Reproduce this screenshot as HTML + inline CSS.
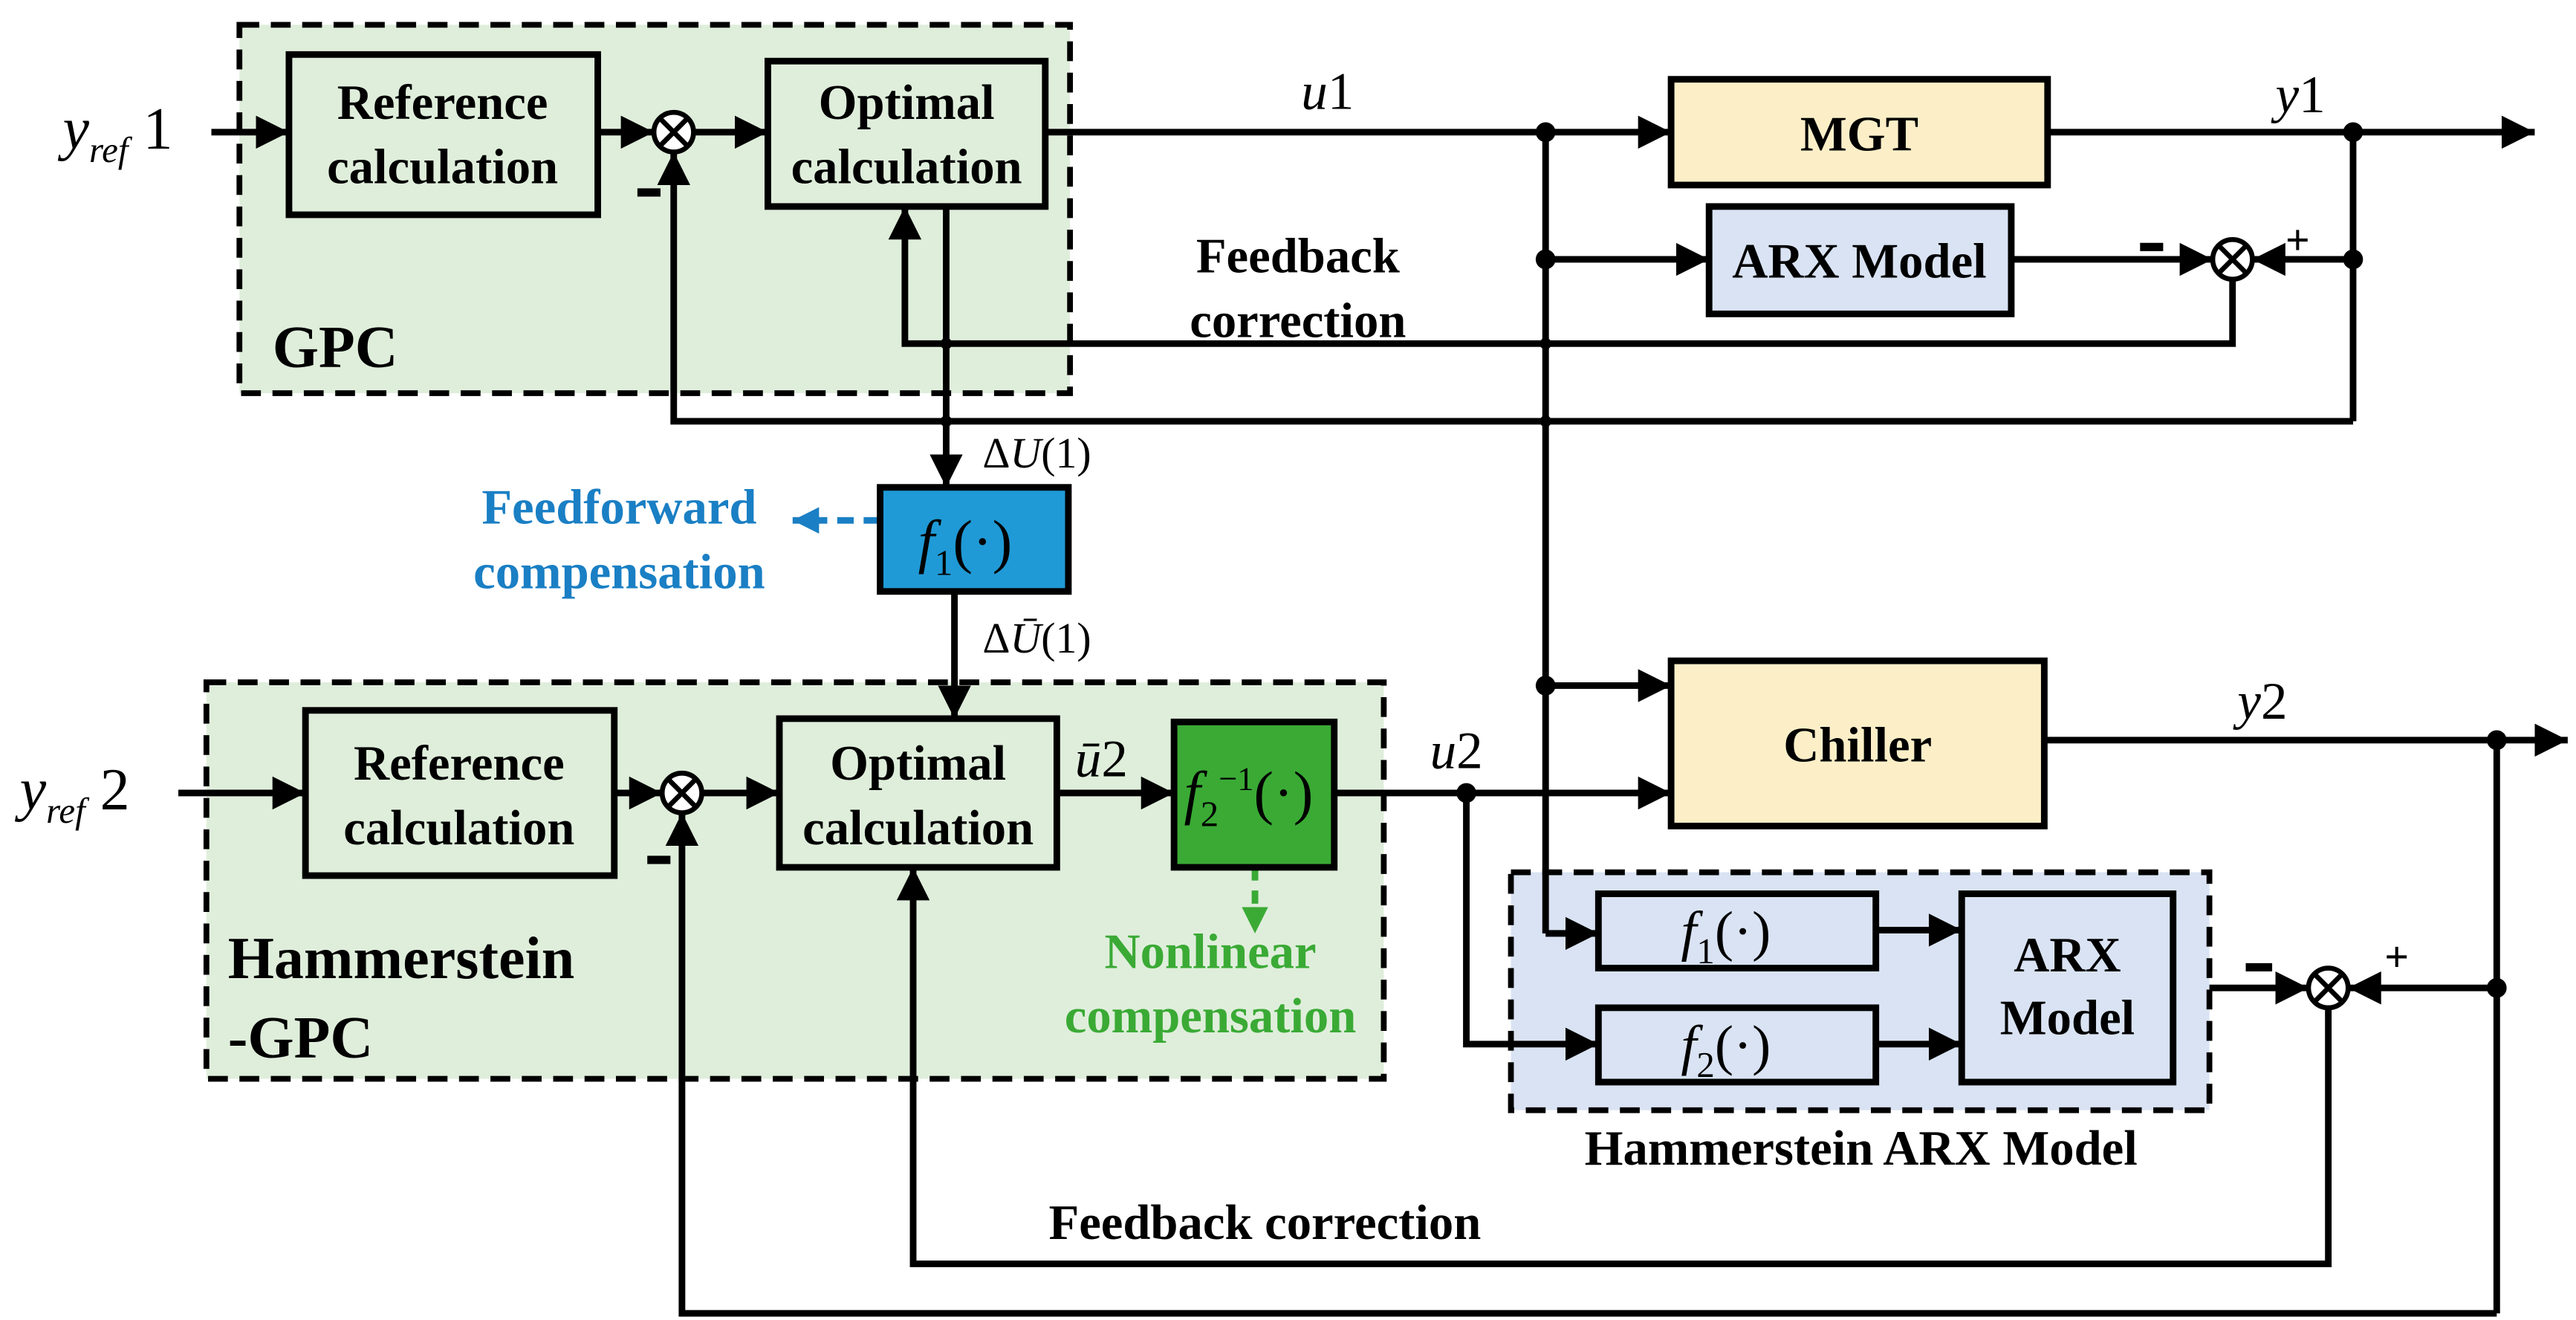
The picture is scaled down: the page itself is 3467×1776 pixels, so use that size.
<!DOCTYPE html>
<html><head><meta charset="utf-8"><style>
html,body{margin:0;padding:0;background:#fff;}
svg{display:block;}
svg, svg text{font-family:"Liberation Serif","Times New Roman",serif;}
.b{font-weight:bold;font-size:30px;}
.m{font-style:italic;font-size:32px;}
</style></head><body>
<svg width="3467" height="1776" viewBox="0 0 1560 799" preserveAspectRatio="none" xmlns="http://www.w3.org/2000/svg" font-family="Liberation Serif, serif">
<defs>
<marker id="a" viewBox="0 0 10 10" refX="10" refY="5" markerWidth="5" markerHeight="5" orient="auto" markerUnits="strokeWidth"><path d="M0,0L10,5L0,10z" fill="#000"/></marker>
<marker id="ab" viewBox="0 0 10 10" refX="10" refY="5" markerWidth="4" markerHeight="4" orient="auto" markerUnits="strokeWidth"><path d="M0,0L10,5L0,10z" fill="#1a7fc4"/></marker>
<marker id="ag" viewBox="0 0 10 10" refX="10" refY="5" markerWidth="4" markerHeight="4" orient="auto" markerUnits="strokeWidth"><path d="M0,0L10,5L0,10z" fill="#3aaa35"/></marker>
</defs>
<rect x="145" y="15" width="503" height="223" fill="#dfeedb" stroke="#000" stroke-width="3.5" stroke-dasharray="12,7"/>
<rect x="125" y="413" width="713" height="240" fill="#dfeedb" stroke="#000" stroke-width="3.5" stroke-dasharray="12,7"/>
<rect x="915" y="528" width="423" height="144" fill="#d9e3f3" stroke="#000" stroke-width="3.5" stroke-dasharray="12,7"/>

<g stroke="#000" stroke-width="4" fill="none">
<line x1="128" y1="80" x2="175" y2="80" marker-end="url(#a)"/>
<line x1="362" y1="80" x2="396" y2="80" marker-end="url(#a)"/>
<line x1="420" y1="80" x2="465" y2="80" marker-end="url(#a)"/>
<line x1="633" y1="80" x2="1012" y2="80" marker-end="url(#a)"/>
<line x1="1240" y1="80" x2="1535" y2="80" marker-end="url(#a)"/>
<line x1="936" y1="80" x2="936" y2="565"/>
<line x1="936" y1="565" x2="968" y2="565" marker-end="url(#a)"/>
<line x1="936" y1="157" x2="1035" y2="157" marker-end="url(#a)"/>
<line x1="936" y1="415" x2="1012" y2="415" marker-end="url(#a)"/>
<line x1="1218" y1="157" x2="1340" y2="157" marker-end="url(#a)"/>
<line x1="1425" y1="157" x2="1364" y2="157" marker-end="url(#a)"/>
<line x1="1425" y1="80" x2="1425" y2="255"/>
<polyline points="1352,169 1352,208 548,208 548,125" marker-end="url(#a)"/>
<polyline points="1425,255 408,255 408,92" marker-end="url(#a)"/>
<line x1="573" y1="125" x2="573" y2="295" marker-end="url(#a)"/>
<line x1="578" y1="358" x2="578" y2="435" marker-end="url(#a)"/>
<line x1="108" y1="480" x2="185" y2="480" marker-end="url(#a)"/>
<line x1="372" y1="480" x2="401" y2="480" marker-end="url(#a)"/>
<line x1="425" y1="480" x2="472" y2="480" marker-end="url(#a)"/>
<line x1="640" y1="480" x2="711" y2="480" marker-end="url(#a)"/>
<line x1="808" y1="480" x2="1012" y2="480" marker-end="url(#a)"/>
<line x1="1238" y1="448" x2="1555" y2="448" marker-end="url(#a)"/>
<polyline points="888,480 888,632 968,632" marker-end="url(#a)"/>
<line x1="1136" y1="563" x2="1188" y2="563" marker-end="url(#a)"/>
<line x1="1136" y1="632" x2="1188" y2="632" marker-end="url(#a)"/>
<line x1="1338" y1="598" x2="1398" y2="598" marker-end="url(#a)"/>
<line x1="1512" y1="598" x2="1422" y2="598" marker-end="url(#a)"/>
<line x1="1512" y1="448" x2="1512" y2="795"/>
<polyline points="1410,610 1410,765 553,765 553,525" marker-end="url(#a)"/>
<polyline points="1512,795 413,795 413,492" marker-end="url(#a)"/>
</g>
<line x1="533" y1="315" x2="480" y2="315" stroke="#1a7fc4" stroke-width="4" stroke-dasharray="10,6" marker-end="url(#ab)"/>
<line x1="760" y1="525" x2="760" y2="565" stroke="#3aaa35" stroke-width="4" stroke-dasharray="8,6" marker-end="url(#ag)"/>

<g stroke="#000" stroke-width="4">
<rect x="175" y="33" width="187" height="97" fill="#dfeedb"/>
<rect x="465" y="37" width="168" height="88" fill="#dfeedb"/>
<rect x="1012" y="48" width="228" height="64" fill="#fcefc8"/>
<rect x="1035" y="125" width="183" height="65" fill="#d9e3f3"/>
<rect x="533" y="295" width="114" height="63" fill="#1f9ad6"/>
<rect x="185" y="430" width="187" height="100" fill="#dfeedb"/>
<rect x="472" y="435" width="168" height="90" fill="#dfeedb"/>
<rect x="711" y="437" width="97" height="88" fill="#3aaa35"/>
<rect x="1012" y="400" width="226" height="100" fill="#fcefc8"/>
<rect x="968" y="541" width="168" height="45" fill="#d9e3f3"/>
<rect x="968" y="610" width="168" height="45" fill="#d9e3f3"/>
<rect x="1188" y="541" width="128" height="114" fill="#d9e3f3"/>
</g>
<g stroke="#000" stroke-width="3" fill="#fff">
<circle cx="408" cy="80" r="12"/><path d="M400,72L416,88M416,72L400,88"/>
<circle cx="1352" cy="157" r="12"/><path d="M1344,149L1360,165M1360,149L1344,165"/>
<circle cx="413" cy="480" r="12"/><path d="M405,472L421,488M421,472L405,488"/>
<circle cx="1410" cy="598" r="12"/><path d="M1402,590L1418,606M1418,590L1402,606"/>
</g>
<g fill="#000">
<circle cx="936" cy="80" r="6"/><circle cx="1425" cy="80" r="6"/><circle cx="936" cy="157" r="6"/><circle cx="1425" cy="157" r="6"/>
<circle cx="936" cy="415" r="6"/><circle cx="888" cy="480" r="6"/><circle cx="1512" cy="448" r="6"/><circle cx="1512" cy="598" r="6"/>
<circle cx="573" cy="208" r="3.5"/><circle cx="573" cy="255" r="3.5"/><circle cx="936" cy="208" r="3.5"/><circle cx="936" cy="255" r="3.5"/>
<!-- minus bars -->
<rect x="386" y="114" width="14" height="5"/>
<rect x="1296" y="147" width="14" height="5"/>
<rect x="392" y="518" width="14" height="5"/>
<rect x="1360" y="583" width="16" height="5"/>
</g>

<g class="b" text-anchor="middle">
<text x="268" y="72">Reference</text><text x="268" y="111">calculation</text>
<text x="549" y="72">Optimal</text><text x="549" y="111">calculation</text>
<text x="1126" y="91">MGT</text>
<text x="1126" y="168">ARX Model</text>
<text x="278" y="472">Reference</text><text x="278" y="511">calculation</text>
<text x="556" y="472">Optimal</text><text x="556" y="511">calculation</text>
<text x="1125" y="461">Chiller</text>
<text x="1252" y="588">ARX</text><text x="1252" y="626">Model</text>
<text x="786" y="165">Feedback</text><text x="786" y="204">correction</text>
<text x="1127" y="705">Hammerstein ARX Model</text>
<text x="766" y="750">Feedback correction</text>
<text x="375" y="317" fill="#1a7fc4">Feedforward</text><text x="375" y="356" fill="#1a7fc4">compensation</text>
<text x="733" y="586" fill="#3aaa35">Nonlinear</text><text x="733" y="625" fill="#3aaa35">compensation</text>
</g>
<text class="b" x="165" y="222" style="font-size:36px">GPC</text>
<text class="b" x="138" y="592" style="font-size:36px">Hammerstein</text>
<text class="b" x="138" y="640" style="font-size:36px">-GPC</text>
<text class="b" x="1384" y="154" style="font-size:26px">+</text>
<text class="b" x="1444" y="588" style="font-size:26px">+</text>
<text x="38" y="90" class="m" style="font-size:36px">y<tspan font-size="22" dy="8">ref</tspan><tspan dy="-8" font-style="normal"> 1</tspan></text>
<text x="12" y="490" class="m" style="font-size:36px">y<tspan font-size="22" dy="8">ref</tspan><tspan dy="-8" font-style="normal"> 2</tspan></text>
<text x="788" y="66" class="m">u<tspan font-style="normal">1</tspan></text>
<text x="1378" y="68" class="m">y<tspan font-style="normal">1</tspan></text>
<text x="1355" y="435" class="m">y<tspan font-style="normal">2</tspan></text>
<text x="866" y="465" class="m">u<tspan font-style="normal">2</tspan></text>
<text x="651" y="470" class="m">ū<tspan font-style="normal">2</tspan></text>
<text x="595" y="283" style="font-size:26px">Δ<tspan font-style="italic">U</tspan>(1)</text>
<text x="595" y="395" style="font-size:26px">Δ<tspan font-style="italic">Ū</tspan>(1)</text>
<text x="556" y="340" class="m" style="font-size:36px">f<tspan font-size="22" dy="8" font-style="normal">1</tspan><tspan dy="-8" font-style="normal">(·)</tspan></text>
<text x="717" y="492" class="m" style="font-size:36px">f<tspan font-size="22" dy="8" font-style="normal">2</tspan><tspan font-size="20" dy="-22" font-style="normal">−1</tspan><tspan dy="14" font-style="normal">(·)</tspan></text>
<text x="1018" y="575" class="m" style="font-size:34px">f<tspan font-size="22" dy="8" font-style="normal">1</tspan><tspan dy="-8" font-style="normal">(·)</tspan></text>
<text x="1018" y="644" class="m" style="font-size:34px">f<tspan font-size="22" dy="8" font-style="normal">2</tspan><tspan dy="-8" font-style="normal">(·)</tspan></text>
</svg>
</body></html>
